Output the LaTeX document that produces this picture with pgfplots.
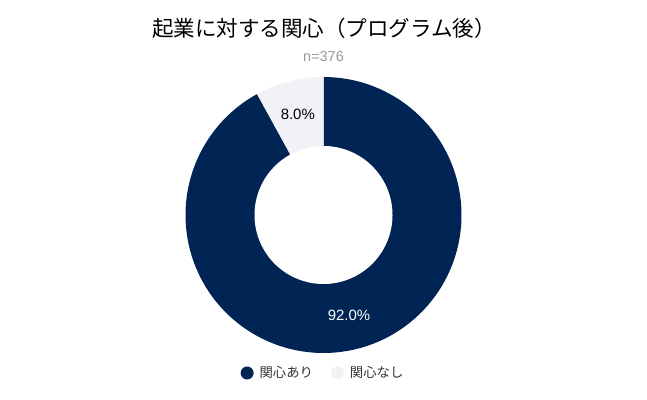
\documentclass[border=0pt]{standalone}
\usepackage{pgfplots}
\pgfplotsset{compat=1.18}
\usepackage{pgfplotstable}
\usepackage{fontspec}
\setmainfont{Liberation Sans}
\newfontfamily\jp{Noto Sans CJK JP}
\definecolor{navy}{HTML}{002453}
\definecolor{lightgr}{HTML}{F1F2F6}
\definecolor{subgray}{HTML}{999999}
\definecolor{legtext}{HTML}{333333}
\pgfplotstableread{
label value
1 92.0
2 8.0
}\piedata
\pgfplotstablegetelem{0}{value}\of\piedata \let\vA\pgfplotsretval
\pgfplotstablegetelem{1}{value}\of\piedata \let\vB\pgfplotsretval
\pgfmathsetmacro{\aStart}{90-3.6*\vA}
\pgfmathsetmacro{\bStart}{\aStart-3.6*\vB}
\begin{document}
\begin{tikzpicture}
\begin{axis}[
  width=647bp, height=400bp, scale only axis,
  xmin=0, xmax=647, ymin=0, ymax=400,
  hide axis, clip=false,
  legend style={draw=none, fill=none, at={(axis cs:323,27)}, anchor=center,
    font=\jp\fontsize{13.4}{15}\selectfont, text=legtext,
    /tikz/every even column/.append style={column sep=16bp}},
  legend columns=2, legend cell align=left,
]
\path (axis cs:0,0) rectangle (axis cs:647,400);
\addplot[fill=navy, draw=none, domain=\aStart:90, samples=200, forget plot]
  ({323.5+138*cos(x)},{185+138*sin(x)}) -- (axis cs:323.5,185) -- cycle;
\addplot[fill=lightgr, draw=none, domain=\bStart:\aStart, samples=40, forget plot]
  ({323.5+138*cos(x)},{185+138*sin(x)}) -- (axis cs:323.5,185) -- cycle;
\addplot[fill=white, draw=none, domain=0:360, samples=200, forget plot]
  ({323.5+69*cos(x)},{185+69*sin(x)}) -- cycle;
\node[font=\fontsize{15}{18}\selectfont, text=black] at (axis cs:297.8,285.2) {8.0\%};
\node[font=\fontsize{15}{18}\selectfont, text=white] at (axis cs:349,85) {92.0\%};
\node[font=\jp\fontsize{21.6}{24}\selectfont] at (axis cs:324,372) {起業に対する関心（プログラム後）};
\node[font=\fontsize{14.5}{17}\selectfont, text=subgray] at (axis cs:323.5,343) {n=376};
\addlegendimage{legend image code/.code={\path[fill=navy, draw=none] (6.5bp,0) circle (6.5bp); \path[draw=none, fill=none] (0,0) -- (17bp,0);}}
\addlegendentry{関心あり}
\addlegendimage{legend image code/.code={\path[fill=lightgr, draw=none] (6.5bp,0) circle (6.5bp); \path[draw=none, fill=none] (0,0) -- (17bp,0);}}
\addlegendentry{関心なし}
\end{axis}
\end{tikzpicture}
\end{document}
